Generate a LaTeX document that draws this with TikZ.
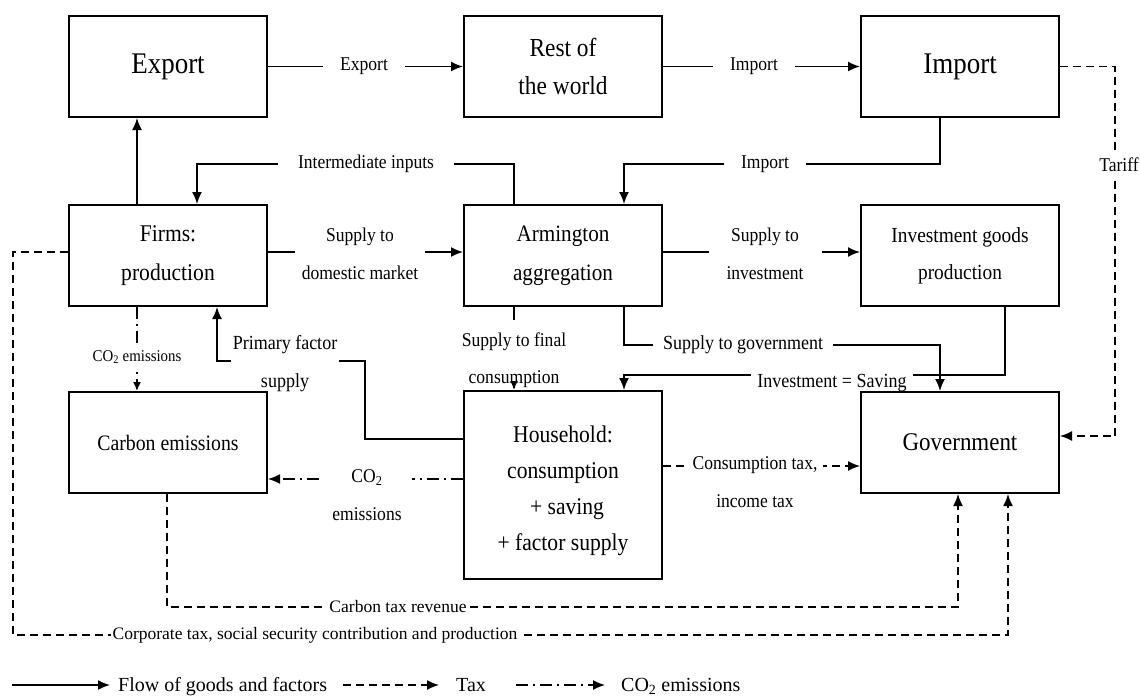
\documentclass[tikz,border=0pt]{standalone}
\usepackage{fontspec}
\setmainfont{Liberation Serif}
\newfontfamily\narrowserif[FakeStretch=0.9]{Liberation Serif}
\usetikzlibrary{arrows.meta,backgrounds}
\newcommand\setfs[2]{\narrowserif\fontsize{#1}{#2}\selectfont}
\newcommand\setbfs[2]{\rmfamily\fontsize{#1}{#2}\selectfont}

\begin{document}
\begin{tikzpicture}[x=1pt,y=-1pt,
  box/.style={draw,line width=2pt,minimum width=198pt,minimum height=101pt,
    inner sep=0pt,align=center,fill=white},
  lbl/.style={fill=white,inner xsep=8pt,inner ysep=1pt,align=center,font=\setfs{19.5}{38}},
  tip/.style={-{Latex[length=12pt,width=10pt]}},
  flow/.style={line width=1.7pt,tip},
  flowline/.style={line width=1.7pt},
  tax/.style={line width=1.5pt,dash pattern=on 8pt off 5pt,tip},
  co2/.style={line width=1.5pt,dash pattern=on 12pt off 5pt on 2pt off 5pt,tip},
  ]
\useasboundingbox (0,0) rectangle (1140,697);

% ---- connector labels (white backing hides the lines behind them)
\node[lbl,inner xsep=17pt] (lExport) at (364,66.5) {Export};
\node[lbl,inner xsep=17pt] (lImport) at (754,66.5) {Import};
\node[lbl,inner xsep=17pt] (lImport2) at (765,164) {Import};
\node[lbl,inner xsep=20pt] (lInter) at (366,164) {Intermediate inputs};
\node[lbl,inner xsep=7pt] (lDom) at (360,254) {Supply to\\domestic market};
\node[lbl,inner xsep=18pt] (lInvS) at (765,254) {Supply to\\investment};
\node[lbl,font=\setfs{19.5}{37},inner sep=0pt] (lFinal) at (514,360) {Supply to final\\consumption};
\node[lbl,font=\setfs{20}{30},inner xsep=10pt] (lGov) at (743,345) {Supply to government};
\node[lbl,font=\setfs{20}{30},inner xsep=6pt,inner ysep=2pt] (lSav) at (832,383) {Investment = Saving};
\node[lbl,font=\setfs{20}{38},inner xsep=2pt] (lPF) at (285,364) {Primary factor\\supply};
\node[lbl,font=\setfs{16.5}{20},inner xsep=2pt,inner ysep=4pt] (lCO2a) at (137,357) {CO\textsubscript{2} emissions};
\node[lbl,inner xsep=10pt] (lCO2b) at (367,495) {CO\textsubscript{2}\\emissions};
\node[lbl,inner xsep=6pt] (lTax) at (755,482) {Consumption tax,\\income tax};
\node[lbl,inner xsep=2pt,inner ysep=4pt] (lTariff) at (1119,165) {Tariff};
\node[lbl,font=\setbfs{17.5}{22},inner xsep=2pt] (lCarb) at (398,607) {Carbon tax revenue};
\node[lbl,font=\setbfs{17.5}{22},inner xsep=2pt] (lCorp) at (315,635) {Corporate tax, social security contribution and production};

% ---- boxes
\node[box,font=\setfs{30}{36}] (export) at (168,66.5) {Export};
\node[box,font=\setfs{26}{38}] (rest) at (563,66.5) {Rest of\\the world};
\node[box,font=\setfs{30}{36}] (import) at (960,66.5) {Import};
\node[box,font=\setfs{24}{39}] (firms) at (168,255.5) {Firms:\\production};
\node[box,font=\setfs{23.5}{39}] (arm) at (563,255.5) {Armington\\aggregation};
\node[box,font=\setfs{21.5}{37}] (inv) at (960,255.5) {Investment goods\\production};
\node[box,font=\setfs{22}{30}] (carbon) at (168,442.5) {Carbon emissions};
\node[box,minimum height=188pt,font=\setfs{24}{36}] (house) at (563,485)
  {\rule{0pt}{28pt}Household:\\consumption\\\hspace{8pt}+ saving\\+ factor supply};
\node[box,font=\setfs{25.5}{30}] (gov) at (960,442.5) {Government};

% ---- turning points
\coordinate (cPF0) at ([yshift=46pt]house.west);
\coordinate (cPF1) at (365,361);
\coordinate (cHC) at ([yshift=6pt]house.west);
\coordinate (cHG) at ([yshift=19pt]house.east);
\coordinate (cTar) at (1115,300);
\coordinate (cSav) at (832,375);
\coordinate (cCorpL) at (13,400);

% ---- connectors
\begin{pgfonlayer}{background}
\draw[flow] (export.east) -- (rest.west);
\draw[flow] (rest.east) -- (import.west);
\draw[flow] ([xshift=-31pt]firms.north) -- ([xshift=-31pt]export.south);
\draw[flow] ([xshift=-20pt]import.south) |- (lImport2.center) -| ([xshift=61pt]arm.north);
\draw[flow] ([xshift=-49pt]arm.north) |- (lInter.center) -| ([xshift=29pt]firms.north);
\draw[flow] ([yshift=3.5pt]firms.east) -- ([yshift=3.5pt]arm.west);
\draw[flow] ([yshift=3.5pt]arm.east) -- ([yshift=3.5pt]inv.west);
\draw[flow] ([xshift=61pt]arm.south) |- (lGov.center) -| ([xshift=-20pt]gov.north);
\draw[flow] ([xshift=45pt]inv.south) |- (cSav) -| ([xshift=61pt]house.north);
\draw[flow] (cPF0) -| (cPF1) -| ([xshift=49pt]firms.south);
\draw[co2,-{Latex[length=9pt,width=8pt]}] ([xshift=-31pt]firms.south) -- ([xshift=-31pt]carbon.north);
\draw[co2] (cHC) -- (cHC -| carbon.east);
\draw[tax] (cHG) -- (cHG -| gov.west);
\draw[tax] (import.east) -| (cTar) |- ([yshift=6.5pt]gov.east);
\draw[tax] ([xshift=-1pt]carbon.south) |- (lCarb.center) -| ([xshift=-2pt]gov.south);
\draw[tax] ([yshift=3.5pt]firms.west) -| (cCorpL) |- (lCorp.center) -| ([xshift=48pt]gov.south);
\end{pgfonlayer}
\draw[flowline,shorten >=12pt] ([xshift=-49pt]arm.south) -- (lFinal.north);
\draw[flowline,-{Latex[length=9pt,width=8pt]}] (lFinal.south) -- ([xshift=-49pt]house.north);

% ---- legend
\coordinate (lgA1) at (12,685);  \coordinate (lgA2) at (110,685);
\coordinate (lgB1) at (343,685); \coordinate (lgB2) at (439,685);
\coordinate (lgC1) at (516,685); \coordinate (lgC2) at (605,685);
\draw[flow] (lgA1) -- (lgA2);
\draw[tax] (lgB1) -- (lgB2);
\draw[co2] (lgC1) -- (lgC2);
\node[anchor=base west,inner sep=0pt,font=\setbfs{20}{24}] (lgAt) at (118,691) {Flow of goods and factors};
\node[anchor=base west,inner sep=0pt,font=\setbfs{20}{24}] (lgBt) at (456,691) {Tax};
\node[anchor=base west,inner sep=0pt,font=\setbfs{20}{24}] (lgCt) at (621,691) {CO\textsubscript{2} emissions};
\end{tikzpicture}
\end{document}
